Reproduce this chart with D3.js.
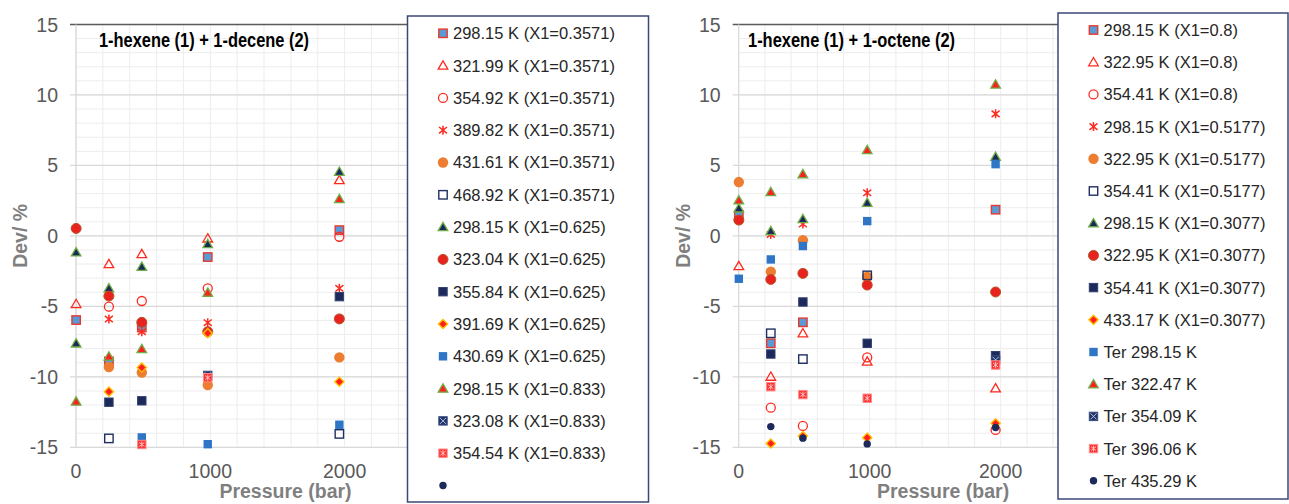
<!DOCTYPE html>
<html>
<head>
<meta charset="utf-8">
<script src="https://cdn.jsdelivr.net/npm/d3@7"></script>
<style>
  body { margin: 0; background: #fff; }
  svg { display: block; font-family: "Liberation Sans", Arial, sans-serif; }
</style>
</head>
<body>
<svg id="chart" width="1289" height="504"></svg>
<script>
// values: [pressure bar, deviation %]
var yTicks = [-15, -10, -5, 0, 5, 10, 15];
var xTicks = [0, 1000, 2000];

var decLabels = [
	"298.15 K (X1=0.3571)", "321.99 K (X1=0.3571)", "354.92 K (X1=0.3571)",
	"389.82 K (X1=0.3571)", "431.61 K (X1=0.3571)", "468.92 K (X1=0.3571)",
	"298.15 K (X1=0.625)", "323.04 K (X1=0.625)", "355.84 K (X1=0.625)",
	"391.69 K (X1=0.625)", "430.69 K (X1=0.625)", "298.15 K (X1=0.833)",
	"323.08 K (X1=0.833)", "354.54 K (X1=0.833)", ""
];
var decValues = [
	[[1, -5.97], [245, -8.9], [490, -6.5], [981, -1.5], [1961, 0.41]],
	[[1, -4.83], [245, -2.0], [490, -1.29], [981, -0.18], [1961, 3.96]],
	[[245, -5.02], [490, -4.62], [981, -3.72], [1961, -0.06]],
	[[245, -5.9], [490, -6.8], [981, -6.16], [1961, -3.72]],
	[[245, -9.3], [490, -9.69], [981, -10.58], [1961, -8.62]],
	[[245, -14.37], [1961, -14.05]],
	[[1, -1.17], [1, -7.63], [245, -3.72], [490, -2.19], [981, -0.58], [1961, 4.55]],
	[[1, 0.53], [245, -4.27], [490, -6.13], [981, -6.8], [1961, -5.89]],
	[[245, -11.8], [490, -11.7], [1961, -4.31]],
	[[245, -11.05], [490, -9.34], [981, -6.9], [1961, -10.35]],
	[[490, -14.3], [981, -14.78], [1961, -13.4]],
	[[1, -11.76], [245, -8.56], [490, -8.03], [981, -4.03], [1961, 2.61]],
	[[981, -9.9]],
	[[490, -14.8], [981, -10.06]],
	[]
];

var octLabels = [
	"298.15 K (X1=0.8)", "322.95 K (X1=0.8)", "354.41 K (X1=0.8)",
	"298.15 K (X1=0.5177)", "322.95 K (X1=0.5177)", "354.41 K (X1=0.5177)",
	"298.15 K (X1=0.3077)", "322.95 K (X1=0.3077)", "354.41 K (X1=0.3077)",
	"433.17 K (X1=0.3077)", "Ter 298.15 K", "Ter 322.47 K",
	"Ter 354.09 K", "Ter 396.06  K", "Ter 435.29 K"
];
var octValues = [
	[[1, 1.5], [245, -7.62], [490, -6.13], [1961, 1.86]],
	[[1, -2.14], [245, -9.99], [490, -6.91], [981, -8.92], [1961, -10.82]],
	[[245, -12.19], [490, -13.48], [981, -8.62], [1961, -13.77]],
	[[245, 0.1], [490, 0.84], [981, 3.06], [1961, 8.66]],
	[[1, 3.82], [245, -2.54], [490, -0.3], [981, -2.9]],
	[[245, -6.91], [490, -8.74], [981, -2.8]],
	[[1, 1.95], [245, 0.34], [490, 1.19], [981, 2.35], [1961, 5.61]],
	[[1, 1.12], [245, -3.09], [490, -2.66], [981, -3.49], [1961, -3.98]],
	[[245, -8.38], [490, -4.69], [981, -7.62], [1961, -8.5]],
	[[245, -14.73], [490, -14.2], [981, -14.32], [1961, -13.3]],
	[[1, -3.04], [245, -1.67], [490, -0.72], [981, 1.05], [1961, 5.09]],
	[[1, 2.52], [245, 3.11], [490, 4.38], [981, 6.09], [1961, 10.74]],
	[[1961, -8.8]],
	[[245, -10.7], [490, -11.26], [981, -11.52], [1961, -9.16]],
	[[245, -13.53], [490, -14.35], [981, -14.76], [1961, -13.6]]
];

// marker style for each series position (same in both panels)
var markerKinds = ["sqLight", "triOpen", "circOpen", "star", "circOrange", "sqOpen",
	"triNavy", "circRed", "sqNavy", "diamond", "sqBlue", "triRed", "sqX", "sqStar", "dot"];

var svg = d3.select("#chart");

function drawMarker(g, kind, x, y) {
	var m = g.append("g").attr("transform", "translate(" + x + "," + y + ")");
	var tri = d3.symbol(d3.symbolTriangle).size(40)();
	switch (kind) {
		case "sqLight":
			m.append("rect").attr("x", -4.2).attr("y", -4.2).attr("width", 8.4).attr("height", 8.4)
				.style("fill", "#5B9BD5").style("stroke", "#E8392F").style("stroke-width", 1.4);
			break;
		case "triOpen":
			m.append("path").attr("d", tri).attr("transform", "translate(0,0.8)")
				.style("fill", "none").style("stroke", "#FF2A1F").style("stroke-width", 1.3);
			break;
		case "circOpen":
			m.append("circle").attr("r", 4.5)
				.style("fill", "none").style("stroke", "#FF2A1F").style("stroke-width", 1.3);
			break;
		case "star":
			m.append("path").attr("d", "M0,-4.5V4.5M-4,-3.2L4,3.2M-4,3.2L4,-3.2")
				.style("fill", "none").style("stroke", "#FF2A1F").style("stroke-width", 1.5);
			break;
		case "circOrange":
			m.append("circle").attr("r", 5.2).style("fill", "#ED7D31");
			break;
		case "sqOpen":
			m.append("rect").attr("x", -4.2).attr("y", -4.2).attr("width", 8.4).attr("height", 8.4)
				.style("fill", "none").style("stroke", "#1F2F63").style("stroke-width", 1.4);
			break;
		case "triNavy":
			m.append("path").attr("d", tri).attr("transform", "translate(0,0.8)")
				.style("fill", "#1B2A5A").style("stroke", "#70AD47").style("stroke-width", 1.3);
			break;
		case "circRed":
			m.append("circle").attr("r", 5)
				.style("fill", "#E8231D").style("stroke", "#B5532A").style("stroke-width", 1);
			break;
		case "sqNavy":
			m.append("rect").attr("x", -4.2).attr("y", -4.2).attr("width", 8.4).attr("height", 8.4)
				.style("fill", "#1B2A5A").style("stroke", "#34406E").style("stroke-width", 1);
			break;
		case "diamond":
			m.append("path").attr("d", "M0,-4.6L4.6,0L0,4.6L-4.6,0Z")
				.style("fill", "#FF1F1F").style("stroke", "#FFC000").style("stroke-width", 1.4);
			break;
		case "sqBlue":
			m.append("rect").attr("x", -4.2).attr("y", -4.2).attr("width", 8.4).attr("height", 8.4)
				.style("fill", "#2E75C6");
			break;
		case "triRed":
			m.append("path").attr("d", tri).attr("transform", "translate(0,0.8)")
				.style("fill", "#FF1F1F").style("stroke", "#70AD47").style("stroke-width", 1.3);
			break;
		case "sqX":
			m.append("rect").attr("x", -4.2).attr("y", -4.2).attr("width", 8.4).attr("height", 8.4)
				.style("fill", "#1F3466").style("stroke", "#3A4C80").style("stroke-width", 1);
			m.append("path").attr("d", "M-3,-3L3,3M-3,3L3,-3")
				.style("stroke", "#B8C4E0").style("stroke-width", 1);
			break;
		case "sqStar":
			m.append("rect").attr("x", -4.2).attr("y", -4.2).attr("width", 8.4).attr("height", 8.4)
				.style("fill", "#FF3030").style("stroke", "#FF8A8A").style("stroke-width", 1);
			m.append("path").attr("d", "M0,-3V3M-2.6,-2L2.6,2M-2.6,2L2.6,-2")
				.style("stroke", "#FFD0D0").style("stroke-width", 0.9);
			break;
		case "dot":
			m.append("circle").attr("r", 3.7).style("fill", "#1B2A5A");
			break;
	}
}

function drawPanel(cfg) {
	var x = d3.scaleLinear().domain([0, 3000]).range([cfg.left, cfg.left + cfg.pxPer1000 * 3]);
	var y = d3.scaleLinear().domain([-15, 15]).range([447.3, 24.5]);
	var g = svg.append("g");

	// minor grid
	g.selectAll(".vminor").data(d3.range(0, 3001, 200)).enter().append("line")
		.attr("x1", function(d) { return x(d); }).attr("x2", function(d) { return x(d); })
		.attr("y1", y(15)).attr("y2", y(-15))
		.style("stroke", "#EDEDED").style("stroke-width", 1);
	g.selectAll(".hminor").data(d3.range(-15, 16, 1)).enter().append("line")
		.attr("x1", x(0)).attr("x2", x(3000))
		.attr("y1", function(d) { return y(d); }).attr("y2", function(d) { return y(d); })
		.style("stroke", "#EDEDED").style("stroke-width", 1);
	// major grid with outside ticks
	g.selectAll(".hmajor").data(yTicks).enter().append("line")
		.attr("x1", x(0) - 6).attr("x2", x(3000))
		.attr("y1", function(d) { return y(d); }).attr("y2", function(d) { return y(d); })
		.style("stroke", function(d) { return d === 15 ? "#5A5A5A" : "#D9D9D9"; })
		.style("stroke-width", function(d) { return d === 15 ? 1.6 : 1.2; });
	g.append("line")
		.attr("x1", x(0)).attr("x2", x(0)).attr("y1", y(15)).attr("y2", y(-15))
		.style("stroke", "#D9D9D9").style("stroke-width", 1.2);

	// points
	cfg.values.forEach(function(pts, i) {
		pts.forEach(function(p) {
			drawMarker(g, markerKinds[i], x(p[0]), y(p[1]));
		});
	});

	// tick labels
	g.selectAll(".ylab").data(yTicks).enter().append("text")
		.attr("x", x(0) - 18).attr("y", function(d) { return y(d); }).attr("dy", "0.36em")
		.attr("text-anchor", "end")
		.style("font-size", "19.5px").style("fill", "#595959")
		.text(function(d) { return d; });
	g.selectAll(".xlab").data(xTicks).enter().append("text")
		.attr("x", function(d) { return x(d); }).attr("y", 478)
		.attr("text-anchor", "middle")
		.style("font-size", "19.5px").style("fill", "#595959")
		.text(function(d) { return d; });

	// axis titles
	g.append("text")
		.attr("x", x(1560)).attr("y", 498).attr("text-anchor", "middle")
		.style("font-size", "19.5px").style("font-weight", "bold").style("fill", "#7F7F7F")
		.text("Pressure (bar)");
	g.append("text")
		.attr("transform", "translate(" + (x(0) - 49) + "," + y(0) + ") rotate(-90)")
		.attr("text-anchor", "middle")
		.style("font-size", "19.5px").style("font-weight", "bold").style("fill", "#7F7F7F")
		.text("Dev/ %");

	// panel title
	g.append("text")
		.attr("x", cfg.titleX).attr("y", 47)
		.attr("textLength", cfg.titleW).attr("lengthAdjust", "spacingAndGlyphs")
		.style("font-family", "'Liberation Sans Narrow', 'Arial Narrow', 'Liberation Sans', Arial, sans-serif")
		.style("font-size", "20px").style("font-weight", "bold").style("fill", "#000")
		.text(cfg.title);

	// legend
	var lg = svg.append("g");
	lg.append("rect")
		.attr("x", cfg.legX).attr("y", cfg.legY).attr("width", cfg.legW).attr("height", 486)
		.style("fill", "#fff").style("stroke", "#3B4778").style("stroke-width", 1.5);
	cfg.labels.forEach(function(label, i) {
		var ly = cfg.legFirst + i * cfg.legStep;
		drawMarker(lg, markerKinds[i], cfg.legX + 35.5, ly);
		lg.append("text")
			.attr("x", cfg.legX + 45.5).attr("y", ly).attr("dy", "0.36em")
			.style("font-size", "16.5px").style("fill", "#262626")
			.text(label);
	});
}

drawPanel({
	left: 76, pxPer1000: 134.3, values: decValues, labels: decLabels,
	title: "1-hexene (1) + 1-decene (2)", titleX: 99, titleW: 210,
	legX: 407.5, legY: 16, legW: 241, legFirst: 33.3, legStep: 32.3
});
drawPanel({
	left: 738.7, pxPer1000: 131, values: octValues, labels: octLabels,
	title: "1-hexene (1) + 1-octene (2)", titleX: 748, titleW: 207,
	legX: 1058, legY: 13, legW: 230, legFirst: 30, legStep: 32.2
});
</script>
</body>
</html>
